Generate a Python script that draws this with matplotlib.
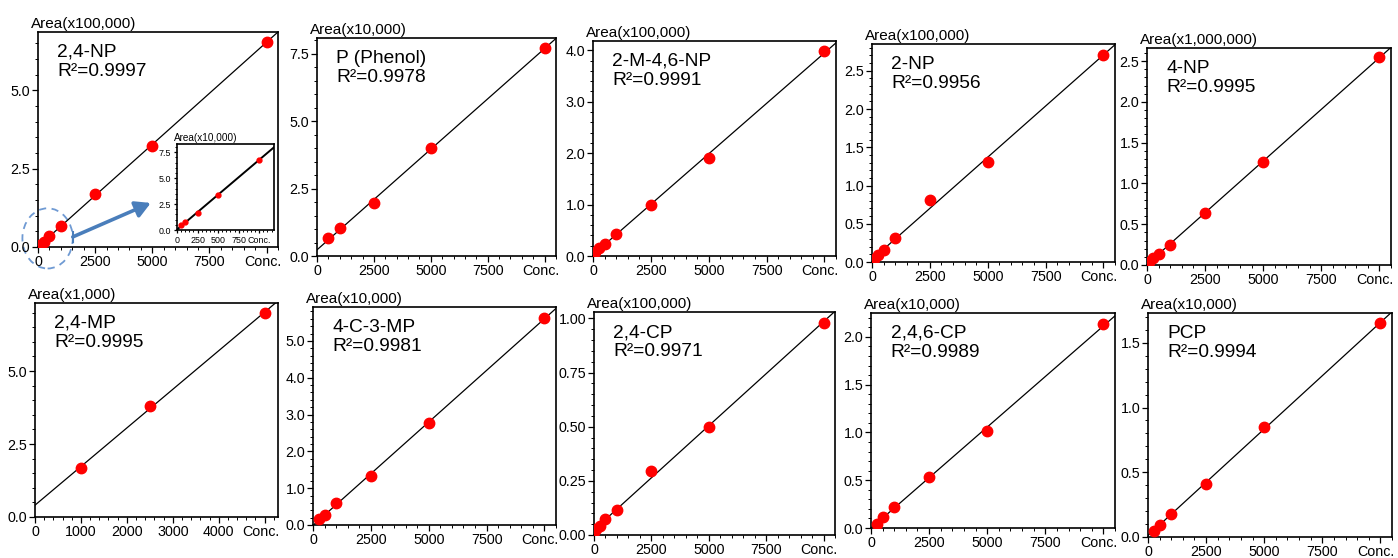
import numpy as np
import matplotlib.pyplot as plt
from matplotlib.ticker import MultipleLocator, AutoMinorLocator, FormatStrFormatter
from matplotlib.patches import Ellipse

plt.rcParams['font.family'] = ['Liberation Sans', 'DejaVu Sans']

# calibration data: concentration vs peak area (area in the unit of the axis label)
conc_24np = [10, 50, 100, 250, 500, 1000, 2500, 5000, 10000]
area_24np = [0.01, 0.045, 0.075, 0.16, 0.34, 0.68, 1.68, 3.22, 6.55]      # x100,000

conc_p = [500, 1000, 2500, 5000, 10000]
area_p = [0.65, 1.02, 1.95, 4.0, 7.7]                                      # x10,000

conc_2m46np = [10, 100, 250, 500, 1000, 2500, 5000, 10000]
area_2m46np = [0.01, 0.08, 0.15, 0.24, 0.42, 1.0, 1.9, 3.99]               # x100,000

conc_2np = [10, 100, 250, 500, 1000, 2500, 5000, 10000]
area_2np = [0.01, 0.04, 0.09, 0.16, 0.31, 0.81, 1.31, 2.71]                # x100,000

conc_4np = [10, 100, 250, 500, 1000, 2500, 5000, 10000]
area_4np = [0.01, 0.04, 0.08, 0.14, 0.25, 0.635, 1.26, 2.55]               # x1,000,000

conc_24mp = [1000, 2500, 5000]
area_24mp = [1.68, 3.79, 6.99]                                             # x1,000

conc_4c3mp = [250, 500, 1000, 2500, 5000, 10000]
area_4c3mp = [0.15, 0.27, 0.59, 1.33, 2.78, 5.62]                          # x10,000

conc_24cp = [10, 100, 250, 500, 1000, 2500, 5000, 10000]
area_24cp = [0.015, 0.03, 0.043, 0.072, 0.115, 0.297, 0.5, 0.98]           # x100,000

conc_246cp = [250, 500, 1000, 2500, 5000, 10000]
area_246cp = [0.045, 0.115, 0.22, 0.53, 1.02, 2.13]                        # x10,000

conc_pcp = [250, 500, 1000, 2500, 5000, 10000]
area_pcp = [0.047, 0.096, 0.18, 0.41, 0.853, 1.65]                         # x10,000

names = ['2,4-NP', 'P (Phenol)', '2-M-4,6-NP', '2-NP', '4-NP',
         '2,4-MP', '4-C-3-MP', '2,4-CP', '2,4,6-CP', 'PCP']
r2 = ['0.9997', '0.9978', '0.9991', '0.9956', '0.9995',
      '0.9995', '0.9981', '0.9971', '0.9989', '0.9994']
units = ['x100,000', 'x10,000', 'x100,000', 'x100,000', 'x1,000,000',
         'x1,000', 'x10,000', 'x100,000', 'x10,000', 'x10,000']
concs = [conc_24np, conc_p, conc_2m46np, conc_2np, conc_4np,
         conc_24mp, conc_4c3mp, conc_24cp, conc_246cp, conc_pcp]
areas = [area_24np, area_p, area_2m46np, area_2np, area_4np,
         area_24mp, area_4c3mp, area_24cp, area_246cp, area_pcp]

# layout: pixel box (left, top, right, bottom), ymax, ystep, y format, xmax, xstep
W, H = 1398, 558
layout = [
    ((38, 32, 278, 247), 6.86, 2.5, '%.1f', 10500, 2500),
    ((317, 38, 556, 256), 8.08, 2.5, '%.1f', 10500, 2500),
    ((593, 41, 836, 256), 4.18, 1.0, '%.1f', 10500, 2500),
    ((872, 44, 1115, 262), 2.85, 0.5, '%.1f', 10500, 2500),
    ((1147, 48, 1391, 265), 2.66, 0.5, '%.1f', 10500, 2500),
    ((35, 303, 278, 517), 7.33, 2.5, '%.1f', 5290, 1000),
    ((313, 307, 556, 525), 5.92, 1.0, '%.1f', 10500, 2500),
    ((594, 312, 835, 535), 1.03, 0.25, '%.2f', 10500, 2500),
    ((871, 313, 1115, 528), 2.25, 0.5, '%.1f', 10500, 2500),
    ((1148, 313, 1392, 537), 1.73, 0.5, '%.1f', 10500, 2500),
]


def px_axes(fig, box):
    l, t, r, b = box
    return fig.add_axes([l / W, 1 - b / H, (r - l) / W, (b - t) / H])


def style_axes(ax, ymax, ystep, yfmt, xmax, xstep, fs, unit, ufs, shift, ticklen):
    ax.set_xlim(0, xmax)
    ax.set_ylim(0, ymax)
    xt = np.arange(0, xmax + 1, xstep)
    ax.set_xticks(xt)
    ax.set_xticklabels([str(int(v)) for v in xt[:-1]] + [''])
    # "Conc." sits at the last tick, nudged a little to the left
    ax.annotate('Conc.', xy=(xt[-1], 0), xycoords=('data', 'axes fraction'),
                xytext=(-shift, -(ticklen + 1.5)), textcoords='offset points',
                ha='center', va='top', fontsize=fs)
    ax.yaxis.set_major_locator(MultipleLocator(ystep))
    ax.yaxis.set_major_formatter(FormatStrFormatter(yfmt))
    ax.xaxis.set_minor_locator(AutoMinorLocator(5))
    ax.yaxis.set_minor_locator(AutoMinorLocator(5))
    ax.tick_params(which='major', length=ticklen, width=0.9, labelsize=fs, pad=1.5)
    ax.tick_params(which='minor', length=ticklen * 0.55, width=0.7)
    for s in ax.spines.values():
        s.set_linewidth(1.2)
    ax.text(-0.03, 1.006, 'Area(' + unit + ')', transform=ax.transAxes,
            fontsize=ufs, ha='left', va='bottom')


fig = plt.figure(figsize=(W / 100, H / 100), dpi=100)

axes = []
for i, (box, ymax, ystep, yfmt, xmax, xstep) in enumerate(layout):
    ax = px_axes(fig, box)
    style_axes(ax, ymax, ystep, yfmt, xmax, xstep, 10.3, units[i], 11, 3, 4)
    x = np.array(concs[i], dtype=float)
    y = np.array(areas[i], dtype=float)
    k, b = np.polyfit(x, y, 1)
    xl = np.array([0, xmax])
    ax.plot(xl, k * xl + b, color='black', lw=0.9)
    ax.plot(x, y, 'o', color='#ff0000', ms=7.5, mec='#ff0000', zorder=3)
    ax.text(0.08, 0.945, names[i] + '\nR²=' + r2[i], transform=ax.transAxes,
            fontsize=13.8, ha='left', va='top', linespacing=1.15)
    axes.append(ax)

# zoom-in inset for the low range of 2,4-NP (x10,000)
ins = px_axes(fig, (177, 144, 274, 230))
style_axes(ins, 8.3, 2.5, '%.1f', 1180, 250, 6.4, 'x10,000', 7.2, 0, 2.5)
xi = np.array([c for c in conc_24np if c >= 50 and c <= 1000], dtype=float)
yi = np.array([a * 10 for c, a in zip(conc_24np, area_24np) if c >= 50 and c <= 1000])
k, b = np.polyfit(xi, yi, 1)
xl = np.array([0, 1180])
ins.plot(xl, k * xl + b, color='black', lw=1.4)
ins.plot(xi, yi, 'o', color='#ff0000', ms=3.5, zorder=3)

# dashed circle and arrow pointing to the inset
ax0 = axes[0]
ax0.add_patch(Ellipse((0.04, 0.04), 0.21, 0.28, transform=ax0.transAxes,
                      fill=False, ls=(0, (4, 3)), lw=1.3, ec='#6f9ad3', clip_on=False))
ax0.annotate('', xy=(0.47, 0.205), xytext=(0.145, 0.047), xycoords='axes fraction',
             arrowprops=dict(arrowstyle='-|>,head_length=0.9,head_width=0.5',
                             color='#4a7ebb', lw=2.6, shrinkA=0, shrinkB=0))
ax0.plot([0.145, 0.145], [0.022, 0.072], transform=ax0.transAxes, color='#4a7ebb',
         lw=1.5, clip_on=False)

fig.savefig('out.png', dpi=100)
